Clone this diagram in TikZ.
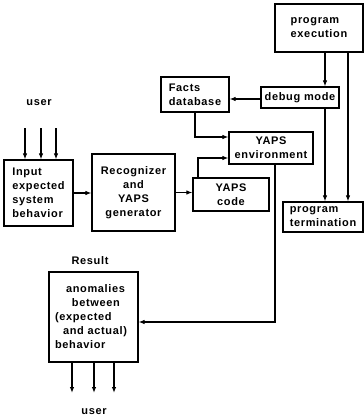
\documentclass[tikz,border=0pt]{standalone}
\usepackage{fontspec}
\setmainfont{Liberation Sans}[LetterSpace=6]
\usepackage{tikz}
\usetikzlibrary{arrows.meta}
\tikzstyle{blk}=[draw=black,line width=1.2pt,inner sep=2pt,
  font=\fontsize{11}{14}\selectfont\bfseries]
\tikzstyle{lbl}=[inner sep=0pt,font=\fontsize{11}{14}\selectfont\bfseries]
\tikzstyle{arr}=[line width=1.1pt,-{Latex[length=6pt,width=4.5pt]}]

\begin{document}
\begin{tikzpicture}[x=1pt,y=-1pt]
        \useasboundingbox (0,0) rectangle (364,418);
        \node [style=blk,minimum width=88pt,minimum height=48pt,align=left] (exec) at (319,28) {program\\execution};
        \node [style=blk,minimum width=78pt,minimum height=21pt,inner sep=1pt] (debug) at (300,97.5) {debug mode};
        \node [style=blk,minimum width=68pt,minimum height=35pt,align=left] (facts) at (195,94.5) {Facts\\database};
        \node [style=blk,minimum width=84pt,minimum height=32pt,align=center] (env) at (271,148) {YAPS\\environment};
        \node [style=blk,minimum width=69pt,minimum height=66pt,align=left] (input) at (38.5,193) {Input\\expected\\system\\behavior};
        \node [style=blk,minimum width=83pt,minimum height=77pt,align=center] (recog) at (133.5,192.5) {Recognizer\\and\\YAPS\\generator};
        \node [style=blk,minimum width=76pt,minimum height=33pt,align=center] (code) at (231,194.5) {YAPS\\code};
        \node [style=blk,minimum width=80pt,minimum height=30pt,align=left,inner sep=1pt] (term) at (323,217) {program\\termination};
        \node [style=blk,minimum height=90pt,text width=77pt,inner sep=6pt,align=left] (result) at (93.5,317) {\hspace{11pt}anomalies\\\hspace{17pt}between\\(expected\\\hspace{8pt}and actual)\\behavior};
        \node [style=lbl] (userin) at (39,103) {user};
        \node [style=lbl] (reslbl) at (90,261) {Result};
        \node [style=lbl] (userout) at (94,412) {user};
        \coordinate (dx) at (325,0);
        \coordinate (ex) at (348,0);
        \draw [style=arr] (exec.south -| dx) to (debug.north -| dx);
        \draw [style=arr] (exec.south -| ex) to (term.north -| ex);
        \draw [style=arr] (debug.south -| dx) to (term.north -| dx);
        \draw [style=arr] ([yshift=-1.5pt]debug.west) to ([yshift=-1.5pt]facts.east |- debug.west);
        \draw [style=arr] (facts.south) |- ([yshift=11pt]env.west);
        \draw [style=arr] ([xshift=-33pt]code.north) |- ([yshift=-10pt]env.west);
        \draw [style=arr] (input.east) to (recog.west |- input.east);
        \draw [style=arr] (recog.east) to (code.west |- recog.east);
        \draw [style=arr] ([xshift=4pt]env.south) |- ([yshift=-5pt]result.east);
        \foreach \i/\x in {1/25,2/41,3/56} {
          \coordinate (in\i) at (\x,128);
          \draw [style=arr] (in\i) to (in\i |- input.north);
        }
        \foreach \i/\x in {1/72,2/94,3/114} {
          \coordinate (out\i) at (\x,393);
          \draw [style=arr] (out\i |- result.south) to (out\i);
        }
    \end{tikzpicture}
\end{document}
